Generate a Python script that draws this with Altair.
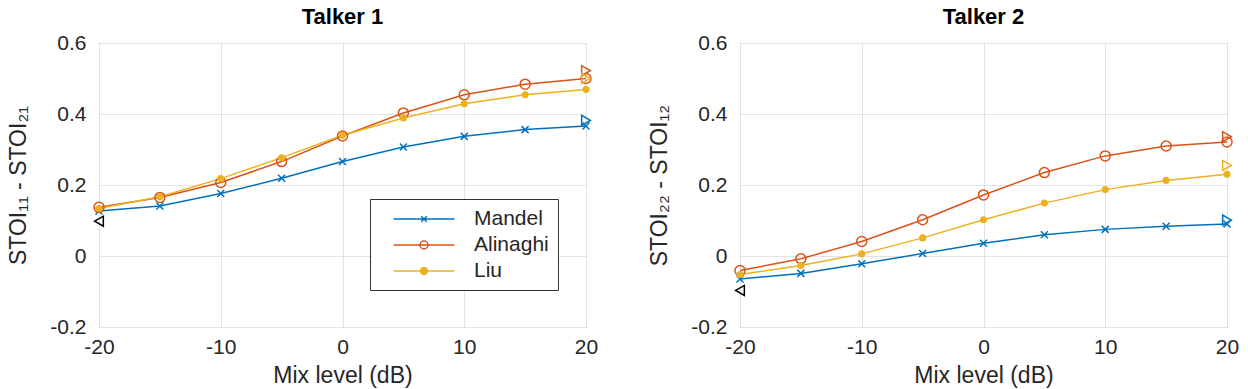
import altair as alt
import pandas as pd

# ---- data ----
mix_db = [-20, -15, -10, -5, 0, 5, 10, 15, 20]
series_names = ["Mandel", "Alinaghi", "Liu"]
series_colors = ["#0072BD", "#D95319", "#EDB120"]

mandel_1 = [0.127, 0.141, 0.176, 0.219, 0.266, 0.307, 0.337, 0.356, 0.366]
alinaghi_1 = [0.137, 0.165, 0.207, 0.266, 0.338, 0.403, 0.454, 0.484, 0.500]
liu_1 = [0.134, 0.167, 0.218, 0.277, 0.340, 0.389, 0.429, 0.454, 0.469]

mandel_2 = [-0.065, -0.049, -0.022, 0.007, 0.036, 0.060, 0.075, 0.084, 0.090]
alinaghi_2 = [-0.041, -0.008, 0.041, 0.102, 0.172, 0.235, 0.282, 0.310, 0.321]
liu_2 = [-0.052, -0.027, 0.006, 0.051, 0.102, 0.149, 0.187, 0.213, 0.230]

# reference triangles (x, y, owner, direction)
tri_1_x = [-20, 20, 20, 20]
tri_1_y = [0.098, 0.382, 0.522, 0.500]
tri_2_x = [-20, 20, 20, 20]
tri_2_y = [-0.097, 0.101, 0.336, 0.255]
tri_owner = ["ref", "Mandel", "Alinaghi", "Liu"]
tri_dir = ["left", "right", "right", "right"]

x_ticks = [-20, -10, 0, 10, 20]
y_ticks = [-0.2, 0, 0.2, 0.4, 0.6]

FONT = "Liberation Sans"
TXT = "#262626"
LFS = 21   # tick labels
TFS = 23   # axis titles

# marker paths
x_path = "M-1,-1L1,1M-1,1L1,-1"
leg_line = "M-3.05,0L3.05,0"
leg_paths = [
    leg_line + "M-0.28,-0.28L0.28,0.28M-0.28,0.28L0.28,-0.28",
    leg_line + "M-0.4,0A0.4,0.4,0,1,0,0.4,0A0.4,0.4,0,1,0,-0.4,0",
    leg_line + "M-0.34,0A0.34,0.34,0,1,0,0.34,0A0.34,0.34,0,1,0,-0.34,0",
]


def make_df(m, a, l):
    rows = []
    for name, vals in zip(series_names, [m, a, l]):
        for x, y in zip(mix_db, vals):
            rows.append({"x": x, "y": y, "s": name, "series": name})
    return pd.DataFrame(rows)


def legend_cfg():
    return alt.Legend(
        title=None, orient="none", legendX=271, legendY=156,
        strokeColor="#333333", fillColor="white", padding=9,
        labelFont=FONT, labelFontSize=LFS, labelColor=TXT,
        symbolSize=400, symbolStrokeWidth=1.5, symbolOpacity=1,
        symbolOffset=34, labelOffset=39, rowPadding=5)


def panel(df, tx, ty, title, ytitle, with_legend):
    xenc = alt.X("x:Q", scale=alt.Scale(domain=[-20, 20], nice=False),
                 axis=alt.Axis(values=x_ticks, title="Mix level (dB)", labelFlush=False,
                               labelPadding=9, titlePadding=7,
                               labelExpr="datum.value + ''"))
    yenc = alt.Y("y:Q", scale=alt.Scale(domain=[-0.2, 0.6], nice=False),
                 axis=alt.Axis(values=y_ticks, title=ytitle, labelPadding=13,
                               titlePadding=19, labelExpr="datum.value + ''"))
    cscale = alt.Scale(domain=series_names + ["ref"], range=series_colors + ["#000000"])
    col = alt.Color("s:N", scale=cscale, legend=None)
    base = alt.Chart(df)
    lines = base.mark_line(strokeWidth=1.5).encode(x=xenc, y=yenc, color=col, detail="s:N")
    pts_x = base.transform_filter("datum.s == 'Mandel'").mark_point(
        filled=False, strokeWidth=1.5, opacity=1, shape=x_path, size=49).encode(
        x=xenc, y=yenc, color=col)
    pts_o = base.transform_filter("datum.s == 'Alinaghi'").mark_point(
        filled=False, strokeWidth=1.5, opacity=1, shape="circle", size=100).encode(
        x=xenc, y=yenc, color=col)
    pts_f = base.transform_filter("datum.s == 'Liu'").mark_point(
        filled=True, size=50, shape="circle", opacity=1).encode(
        x=xenc, y=yenc, color=col)
    tdf = pd.DataFrame({"x": tx, "y": ty, "s": tri_owner, "dir": tri_dir})
    tri_base = alt.Chart(tdf)
    tri_l = tri_base.transform_filter("datum.dir == 'left'").mark_point(
        filled=False, strokeWidth=1.5, size=100, opacity=1, shape="triangle-left").encode(
        x=xenc, y=yenc, color=col)
    tri_r = tri_base.transform_filter("datum.dir == 'right'").mark_point(
        filled=False, strokeWidth=1.5, size=100, opacity=1, shape="triangle-right").encode(
        x=xenc, y=yenc, color=col)
    layers = [lines, pts_x, pts_o, pts_f, tri_l, tri_r]
    if with_legend:
        carrier = base.transform_filter("false").mark_point(filled=False, strokeWidth=1.5).encode(
            x=xenc, y=yenc,
            stroke=alt.Stroke("series:N", scale=alt.Scale(domain=series_names, range=series_colors),
                              legend=legend_cfg()),
            fill=alt.Fill("series:N", scale=alt.Scale(domain=series_names,
                                                      range=["transparent", "transparent", "#EDB120"]),
                          legend=legend_cfg()),
            shape=alt.Shape("series:N", scale=alt.Scale(domain=series_names, range=leg_paths),
                            legend=legend_cfg()))
        layers.append(carrier)
    return alt.layer(*layers).properties(
        width=487, height=284,
        title=alt.Title(title, fontSize=22, fontWeight="bold", font=FONT, color="#000000", offset=3))


left = panel(make_df(mandel_1, alinaghi_1, liu_1), tri_1_x, tri_1_y, "Talker 1",
             "STOI₁₁  -  STOI₂₁", True)
right = panel(make_df(mandel_2, alinaghi_2, liu_2), tri_2_x, tri_2_y, "Talker 2",
              "STOI₂₂  -  STOI₁₂", False)

chart = alt.hconcat(left, right, spacing=154, bounds="flush").properties(
    padding={"left": 7, "top": 5, "right": 5, "bottom": 2}
).configure_view(stroke="#444444", strokeWidth=1).configure_axis(
    grid=True, gridColor="#e3e3e3", gridWidth=1, domain=False, ticks=False,
    labelFont=FONT, labelFontSize=LFS, labelColor=TXT,
    titleFont=FONT, titleFontSize=TFS, titleFontWeight="normal", titleColor=TXT,
)

chart.save("out.html", embed_options={"renderer": "svg", "actions": False})
